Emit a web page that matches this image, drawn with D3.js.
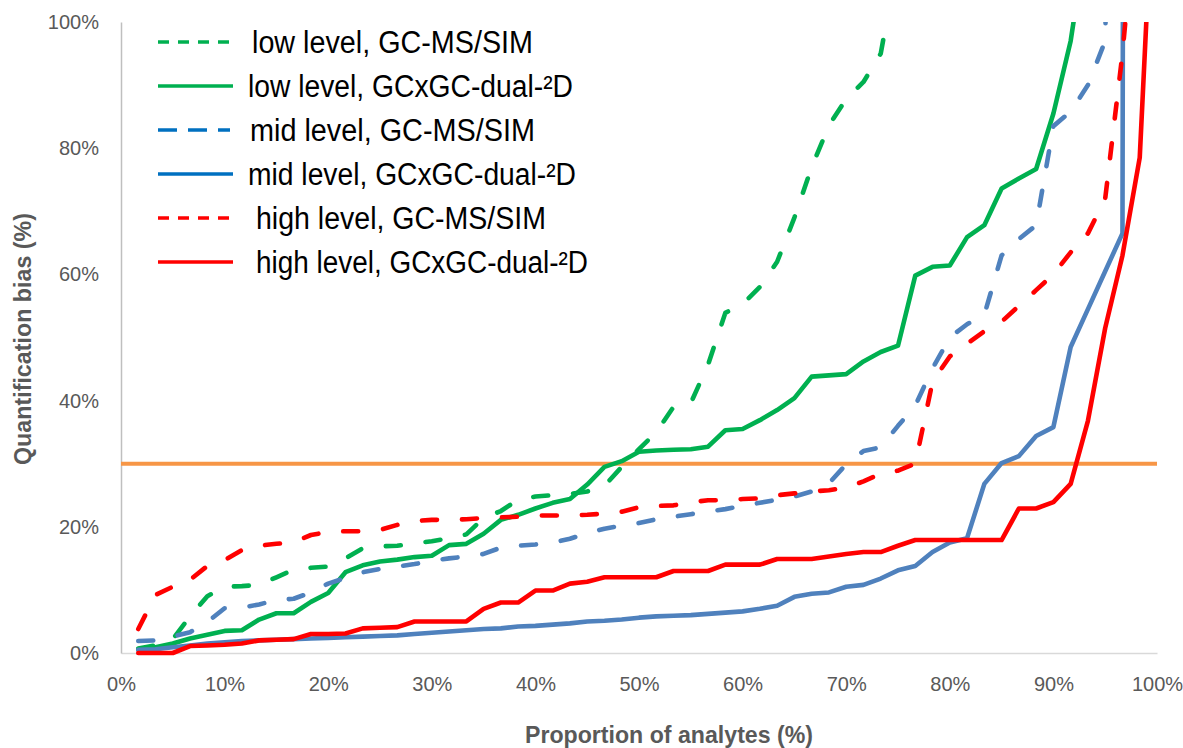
<!DOCTYPE html>
<html>
<head>
<meta charset="utf-8">
<script src="https://cdn.jsdelivr.net/npm/d3@7"></script>
<style>
  html, body { margin: 0; padding: 0; background: #ffffff; }
  svg { display: block; }
  text { font-family: "Liberation Sans", Arial, sans-serif; }
</style>
</head>
<body>
<svg id="chart" width="1183" height="748"></svg>
<script>
// Proportion of analytes (x, %): 60 analytes sorted by bias
const proportion = d3.range(1, 61).map(i => i * 100 / 60);

// Quantification bias (%) per analyte, ascending, for each level / method
const lowGcms = [0.7, 1.2, 2.2, 5.8, 9.0, 10.5, 10.6, 10.8, 12.0, 13.2,
  13.5, 13.7, 15.0, 16.6, 16.9, 17.0, 17.4, 17.7, 18.2, 18.8,
  21.4, 22.5, 24.3, 24.8, 25.0, 25.2, 25.6, 26.5, 29.5, 32.3,
  35.0, 39.0, 39.6, 45.7, 53.9, 55.3, 58.0, 62.0, 69.0, 77.0,
  83.6, 87.8, 90.5, 95.0, 110, 120, 135, 150, 170, 190,
  215, 240, 270, 300, 340, 380, 430, 480, 550, 650];

const lowGcxgc = [0.6, 0.9, 1.5, 2.3, 2.9, 3.5, 3.6, 5.3, 6.3, 6.3,
  8.1, 9.5, 12.8, 13.9, 14.5, 14.8, 15.2, 15.4, 17.1, 17.3,
  18.9, 21.1, 21.9, 22.9, 23.8, 24.4, 26.7, 29.5, 30.4, 31.9,
  32.1, 32.2, 32.3, 32.7, 35.3, 35.5, 36.9, 38.5, 40.4, 43.8,
  44.0, 44.2, 46.2, 47.7, 48.7, 59.8, 61.2, 61.4, 65.9, 67.8,
  73.6, 75.2, 76.7, 85.5, 97.0, 115, 135, 160, 190, 230];

const midGcms = [1.9, 2.0, 2.6, 3.3, 4.9, 7.1, 7.2, 7.7, 8.4, 8.6,
  9.6, 11.0, 11.9, 12.8, 13.3, 13.7, 14.1, 14.6, 15.0, 15.3,
  15.7, 16.7, 17.0, 17.2, 17.5, 18.1, 19.0, 19.7, 20.2, 20.6,
  21.2, 21.6, 22.0, 22.4, 22.8, 23.3, 23.8, 24.3, 24.8, 25.6,
  26.9, 29.9, 32.0, 32.6, 36.0, 39.2, 45.1, 50.0, 52.1, 53.6,
  63.0, 65.6, 67.8, 83.5, 85.8, 90.0, 97.0, 250, 400, 600];

const midGcxgc = [0.5, 0.6, 0.9, 1.2, 1.5, 1.7, 1.9, 2.0, 2.1, 2.2,
  2.3, 2.4, 2.5, 2.6, 2.7, 2.8, 3.0, 3.2, 3.4, 3.6,
  3.8, 3.9, 4.2, 4.3, 4.5, 4.7, 5.0, 5.1, 5.3, 5.6,
  5.8, 5.9, 6.0, 6.2, 6.4, 6.6, 7.0, 7.5, 8.9, 9.4,
  9.6, 10.5, 10.8, 11.8, 13.1, 13.8, 16.0, 17.5, 18.2, 26.8,
  30.1, 31.2, 34.4, 35.8, 48.5, 54.5, 60.5, 66.5, 1500, 1600];

const highGcms = [3.8, 9.2, 10.5, 11.6, 13.8, 14.7, 16.3, 17.0, 17.3, 17.6,
  18.7, 19.2, 19.3, 19.3, 19.5, 20.3, 20.9, 21.1, 21.1, 21.2,
  21.4, 21.5, 21.6, 21.8, 21.8, 21.8, 21.9, 22.1, 22.4, 23.1,
  23.3, 23.4, 23.9, 24.2, 24.2, 24.4, 24.5, 25.0, 25.3, 25.6,
  25.8, 26.2, 27.2, 28.4, 28.9, 30.0, 43.0, 47.0, 49.0, 51.0,
  52.5, 55.0, 57.5, 60.0, 63.5, 66.5, 72.0, 95.0, 125, 180];

const highGcxgc = [0.0, 0.0, 0.0, 1.1, 1.2, 1.3, 1.5, 2.0, 2.1, 2.2,
  3.0, 3.0, 3.1, 3.9, 4.0, 4.1, 5.0, 5.0, 5.0, 5.0,
  7.0, 8.0, 8.0, 9.9, 9.9, 11.0, 11.3, 12.0, 12.0, 12.0,
  12.0, 13.0, 13.0, 13.0, 14.0, 14.0, 14.0, 14.9, 14.9, 14.9,
  15.3, 15.7, 16.0, 16.0, 17.0, 17.9, 17.9, 17.9, 17.9, 17.9,
  17.9, 22.9, 22.9, 23.9, 26.8, 36.8, 51.5, 63.0, 78.5, 135];

// 30 % acceptance limit
const limitX = [0, 100];
const limitY = [30, 30];

const xTicks = [0, 10, 20, 30, 40, 50, 60, 70, 80, 90, 100];
const yTicks = [0, 20, 40, 60, 80, 100];

const seriesLabels = [
  "low level, GC-MS/SIM",
  "low level, GCxGC-dual-²D",
  "mid level, GC-MS/SIM",
  "mid level, GCxGC-dual-²D",
  "high level, GC-MS/SIM",
  "high level, GCxGC-dual-²D"
];

const series = [
  { values: lowGcms,  line: "#00B050", key: "#00B050", dashed: true,  keyDash: "11 9" },
  { values: lowGcxgc, line: "#00B050", key: "#00B050", dashed: false },
  { values: midGcms,  line: "#4F81BD", key: "#0070C0", dashed: true,  keyDash: "19 11" },
  { values: midGcxgc, line: "#4F81BD", key: "#0070C0", dashed: false },
  { values: highGcms, line: "#FF0000", key: "#FF0000", dashed: true,  keyDash: "11 9" },
  { values: highGcxgc,line: "#FF0000", key: "#FF0000", dashed: false }
];

// legend label layout: start x and rendered width
const legendTextX = [252, 248, 250, 248, 256, 256];
const legendTextW = [281, 325, 285, 328, 290, 332];

const svg = d3.select("#chart");

const x = d3.scaleLinear().domain([0, 100]).range([121, 1157]);
const y = d3.scaleLinear().domain([0, 100]).range([653, 22]);

// Axes
const xAxis = svg.append("g")
  .attr("transform", `translate(0,${y(0)})`)
  .call(d3.axisBottom(x).tickValues(xTicks).tickFormat(d => d + "%")
    .tickSize(0).tickPadding(24));
xAxis.select(".domain").attr("stroke", "#D9D9D9").attr("stroke-width", 1.5);

const yAxis = svg.append("g")
  .attr("transform", `translate(${x(0)},0)`)
  .call(d3.axisLeft(y).tickValues(yTicks).tickFormat(d => d + "%")
    .tickSize(0).tickPadding(22));
yAxis.select(".domain").attr("stroke", "#BFBFBF").attr("stroke-width", 1.5);

svg.selectAll(".tick text")
  .attr("font-family", "Liberation Sans, Arial, sans-serif")
  .attr("font-size", 20)
  .attr("fill", "#595959");

// Axis titles
svg.append("text")
  .attr("x", 669).attr("y", 743)
  .attr("text-anchor", "middle")
  .attr("font-size", 24).attr("font-weight", "bold")
  .attr("fill", "#595959")
  .attr("textLength", 288).attr("lengthAdjust", "spacingAndGlyphs")
  .text("Proportion of analytes (%)");

svg.append("text")
  .attr("transform", "translate(31,339) rotate(-90)")
  .attr("text-anchor", "middle")
  .attr("font-size", 24).attr("font-weight", "bold")
  .attr("fill", "#595959")
  .attr("textLength", 252).attr("lengthAdjust", "spacingAndGlyphs")
  .text("Quantification bias (%)");

// Plot area clip (values above 100 % run off the top)
svg.append("defs").append("clipPath").attr("id", "plot-clip")
  .append("rect").attr("x", 0).attr("y", y(100)).attr("width", 1183).attr("height", 748 - y(100));

const plot = svg.append("g").attr("clip-path", "url(#plot-clip)");

// Limit line
plot.append("path")
  .datum(limitX.map((d, i) => [d, limitY[i]]))
  .attr("fill", "none")
  .attr("stroke", "#F79646")
  .attr("stroke-width", 4)
  .attr("d", d3.line().x(d => x(d[0])).y(d => y(d[1])));

const line = d3.line()
  .x((d, i) => x(proportion[i]))
  .y(d => y(d));

series.forEach(s => {
  plot.append("path")
    .datum(s.values)
    .attr("fill", "none")
    .attr("stroke", s.line)
    .attr("stroke-width", 4.6)
    .attr("stroke-linejoin", "round")
    .attr("stroke-linecap", "round")
    .attr("stroke-dasharray", s.dashed ? "15 25" : null)
    .attr("d", line);
});

// Legend
const legend = svg.append("g");
const rowY = d3.scalePoint().domain(d3.range(seriesLabels.length)).range([42, 262]);

series.forEach((s, i) => {
  const cy = rowY(i);
  legend.append("line")
    .attr("x1", 158).attr("x2", s.dashed ? 230 : 233)
    .attr("y1", cy).attr("y2", cy)
    .attr("stroke", s.key)
    .attr("stroke-width", 3.5)
    .attr("stroke-dasharray", s.dashed ? s.keyDash : null);

  legend.append("text")
    .attr("x", legendTextX[i])
    .attr("y", cy + 11)
    .attr("font-size", 31)
    .attr("fill", "#000000")
    .attr("textLength", legendTextW[i])
    .attr("lengthAdjust", "spacingAndGlyphs")
    .text(seriesLabels[i]);
});
</script>
</body>
</html>
